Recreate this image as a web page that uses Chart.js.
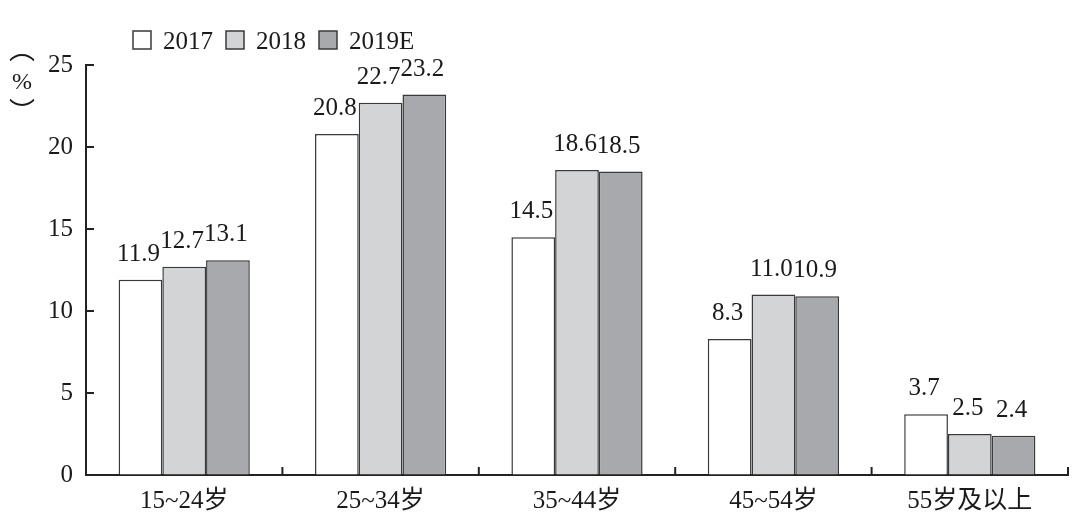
<!DOCTYPE html>
<html><head><meta charset="utf-8">
<script src="https://cdn.jsdelivr.net/npm/chart.js@4.4.1/dist/chart.umd.min.js"></script>
<style>html,body{margin:0;padding:0;background:#fff;}canvas{display:block;}</style>
</head><body>
<canvas id="c" width="1080" height="524"></canvas>
<script>
const categories = ['15~24岁', '25~34岁', '35~44岁', '45~54岁', '55岁及以上'];
const seriesNames = ['2017', '2018', '2019E'];
const values2017 = [11.9, 20.8, 14.5, 8.3, 3.7];
const values2018 = [12.7, 22.7, 18.6, 11.0, 2.5];
const values2019 = [13.1, 23.2, 18.5, 10.9, 2.4];
const yTicks = [0, 5, 10, 15, 20, 25];
const yAxisTitle = ['︵', '%', '︶'];

const FONT = "'Liberation Serif', 'Noto Sans CJK SC', serif";
const CJK = "'Noto Sans CJK SC', 'Liberation Serif', serif";
const fills = ['#ffffff', '#d3d4d6', '#a8a9ac'];
const edge = '#3a3a3a';
const axisColor = '#222222';
const FS = 25;

function centeredText(ctx, txt, x, cy) {
  const m = ctx.measureText(txt);
  const a = m.actualBoundingBoxAscent, d = m.actualBoundingBoxDescent;
  ctx.fillText(txt, x, cy + (a - d) / 2);
}

const extras = {
  id: 'extras',
  afterDatasetsDraw(chart) {
    const ctx = chart.ctx;
    ctx.save();
    ctx.font = FS + 'px ' + FONT;
    ctx.fillStyle = '#1a1a1a';
    ctx.textAlign = 'center';
    ctx.textBaseline = 'alphabetic';
    chart.data.datasets.forEach((ds, i) => {
      const meta = chart.getDatasetMeta(i);
      meta.data.forEach((bar, j) => {
        ctx.fillText(ds.data[j].toFixed(1), bar.x - 2, bar.y - 19);
      });
    });
    ctx.restore();
  },
  afterDraw(chart) {
    const ctx = chart.ctx;
    const xs = chart.scales.x, ys = chart.scales.y;
    const area = chart.chartArea;
    ctx.save();
    ctx.strokeStyle = axisColor;
    ctx.lineWidth = 2;
    yTicks.forEach(v => {
      if (v === 0) return;
      const y = ys.getPixelForValue(v);
      ctx.beginPath(); ctx.moveTo(area.left, y); ctx.lineTo(area.left + 8, y); ctx.stroke();
    });
    const step = xs.getPixelForValue(1) - xs.getPixelForValue(0);
    for (let k = 0; k < categories.length; k++) {
      const x = xs.getPixelForValue(k) + step / 2;
      ctx.beginPath(); ctx.moveTo(x, area.bottom); ctx.lineTo(x, area.bottom - 8); ctx.stroke();
    }
    ctx.restore();

    // legend
    ctx.save();
    ctx.font = FS + 'px ' + FONT;
    ctx.textBaseline = 'alphabetic';
    ctx.textAlign = 'left';
    let lx = 133;
    const ly = 31;
    chart.data.datasets.forEach((ds) => {
      ctx.fillStyle = ds.backgroundColor;
      ctx.fillRect(lx, ly, 18, 18);
      ctx.strokeStyle = edge; ctx.lineWidth = 1.5;
      ctx.strokeRect(lx, ly, 18, 18);
      ctx.fillStyle = '#1a1a1a';
      ctx.fillText(ds.label, lx + 30, ly + 18);
      lx += 30 + ctx.measureText(ds.label).width + 13;
    });
    ctx.restore();

    // y axis title (vertical)
    ctx.save();
    ctx.fillStyle = '#1a1a1a';
    ctx.textAlign = 'center';
    ctx.font = '26px ' + CJK;
    centeredText(ctx, yAxisTitle[0], 22, 58);
    ctx.font = '24px ' + FONT;
    centeredText(ctx, yAxisTitle[1], 22, 81);
    ctx.font = '26px ' + CJK;
    centeredText(ctx, yAxisTitle[2], 22, 102);
    ctx.restore();
  }
};

new Chart(document.getElementById('c'), {
  type: 'bar',
  data: {
    labels: categories,
    datasets: [
      { label: seriesNames[0], data: values2017, backgroundColor: fills[0], borderColor: edge, borderWidth: 1.5 },
      { label: seriesNames[1], data: values2018, backgroundColor: fills[1], borderColor: edge, borderWidth: 1.5 },
      { label: seriesNames[2], data: values2019, backgroundColor: fills[2], borderColor: edge, borderWidth: 1.5 }
    ]
  },
  options: {
    responsive: false,
    devicePixelRatio: 1,
    animation: false,
    layout: { padding: { left: 0, right: 12, top: 65, bottom: 0 } },
    plugins: { legend: { display: false }, tooltip: { enabled: false } },
    datasets: { bar: { categoryPercentage: 0.668, barPercentage: 1.0 } },
    scales: {
      x: {
        grid: { display: true, drawOnChartArea: false, drawTicks: false, color: 'rgba(0,0,0,0)' },
        border: { display: true, color: axisColor, width: 2 },
        ticks: { font: { family: FONT, size: FS }, color: '#1a1a1a', padding: 11, maxRotation: 0 },
        afterFit(s) { s.height = 49; }
      },
      y: {
        min: 0, max: 25,
        afterBuildTicks(s) { s.ticks = yTicks.map(v => ({ value: v })); },
        grid: { display: true, drawOnChartArea: false, drawTicks: false, color: 'rgba(0,0,0,0)' },
        border: { display: true, color: axisColor, width: 2 },
        ticks: { font: { family: FONT, size: FS }, color: '#1a1a1a', padding: 13 },
        afterFit(s) { s.width = 86; }
      }
    }
  },
  plugins: [extras]
});
</script>
</body></html>
